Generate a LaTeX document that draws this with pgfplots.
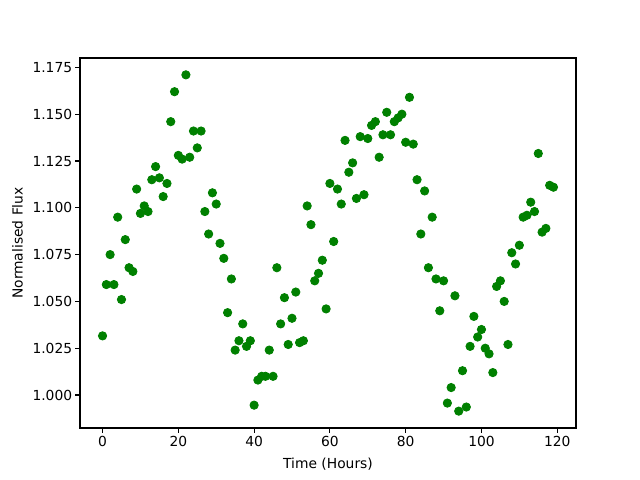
\documentclass[border=0pt]{standalone}
\usepackage{pgfplots}
\pgfplotsset{compat=1.18}
\usepackage{fontspec}
\setmainfont{DejaVu Sans}
\definecolor{mplgreen}{RGB}{0,128,0}
\begin{document}
\begin{tikzpicture}
\path[use as bounding box] (0,0) rectangle (6.4in,4.8in);
\begin{axis}[
  at={(0.8in,0.52in)}, anchor=south west,
  scale only axis, width=4.96in, height=3.70in,
  xmin=-5.95, xmax=124.95, ymin=0.9824, ymax=1.1800,
  xtick={0,20,40,60,80,100,120},
  ytick={1.000,1.025,1.050,1.075,1.100,1.125,1.150,1.175},
  yticklabel style={/pgf/number format/.cd,fixed,fixed zerofill,precision=3},
  /pgf/number format/assume math mode=true,
  tick align=outside, xtick pos=bottom, ytick pos=left,
  major tick length=3.5pt,
  tick style={black, line width=0.8pt},
  axis line style={line width=0.8pt},
  ticklabel style={font=\fontsize{10}{12}\selectfont},
  label style={font=\fontsize{10}{12}\selectfont},
  xlabel={Time (Hours)}, ylabel={Normalised Flux},
  xlabel style={yshift=-3pt}, ylabel style={yshift=1.5pt},
  every tick label/.append style={inner sep=2pt},
]
\addplot[only marks, mark=*, mark size=3pt, mark options={draw=mplgreen, fill=mplgreen, line width=0.6pt}] table {
x y
0 1.0316
1 1.059
2 1.075
3 1.059
4 1.095
5 1.051
6 1.083
7 1.068
8 1.066
9 1.110
10 1.097
11 1.101
12 1.098
13 1.115
14 1.122
15 1.116
16 1.106
17 1.113
18 1.146
19 1.162
20 1.128
21 1.126
22 1.171
23 1.127
24 1.141
25 1.132
26 1.141
27 1.098
28 1.086
29 1.108
30 1.102
31 1.081
32 1.073
33 1.044
34 1.062
35 1.024
36 1.029
37 1.038
38 1.026
39 1.029
40 0.9946
41 1.008
42 1.010
43 1.010
44 1.024
45 1.010
46 1.068
47 1.038
48 1.052
49 1.027
50 1.041
51 1.055
52 1.028
53 1.029
54 1.101
55 1.091
56 1.061
57 1.065
58 1.072
59 1.046
60 1.113
61 1.082
62 1.110
63 1.102
64 1.136
65 1.119
66 1.124
67 1.105
68 1.138
69 1.107
70 1.137
71 1.144
72 1.146
73 1.127
74 1.139
75 1.151
76 1.139
77 1.146
78 1.148
79 1.150
80 1.135
81 1.159
82 1.134
83 1.115
84 1.086
85 1.109
86 1.068
87 1.095
88 1.062
89 1.045
90 1.061
91 0.9957
92 1.004
93 1.053
94 0.9914
95 1.013
96 0.9936
97 1.026
98 1.042
99 1.031
100 1.035
101 1.025
102 1.022
103 1.012
104 1.058
105 1.061
106 1.050
107 1.027
108 1.076
109 1.070
110 1.080
111 1.095
112 1.096
113 1.103
114 1.098
115 1.129
116 1.087
117 1.089
118 1.112
119 1.111
};
\end{axis}
\end{tikzpicture}
\end{document}
